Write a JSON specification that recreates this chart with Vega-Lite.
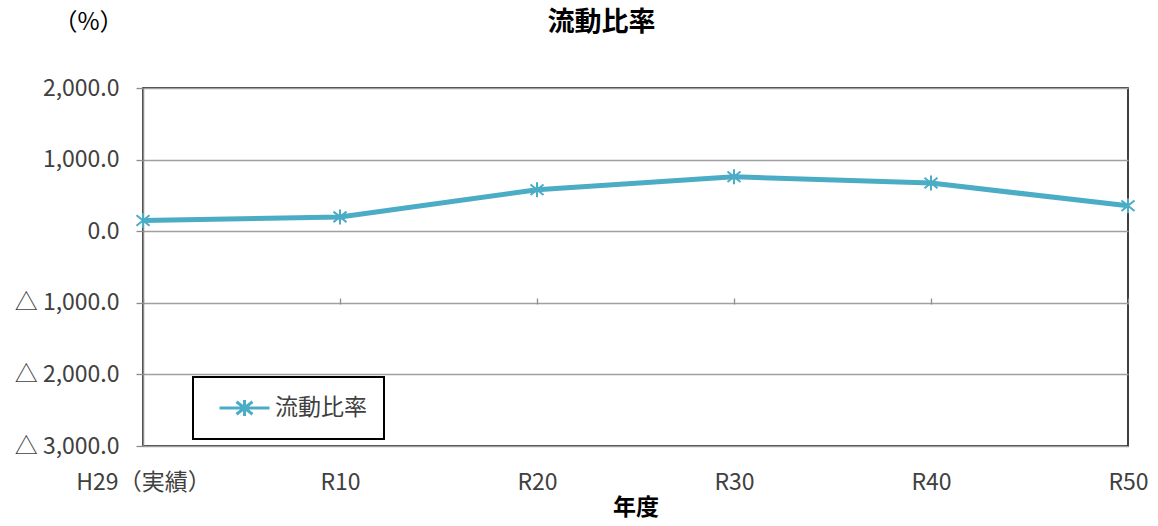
{
  "$schema": "https://vega.github.io/schema/vega-lite/v6.json",
  "autosize": {"type": "none"},
  "width": 985,
  "height": 358,
  "padding": {"left": 143, "top": 88, "right": 30, "bottom": 80},
  "background": "white",
  "config": {
    "font": "Noto Sans CJK JP",
    "view": {"stroke": "#000000", "strokeWidth": 1.5},
    "axis": {"labelFont": "Noto Sans CJK JP", "titleFont": "Noto Sans CJK JP"},
    "legend": {"strokeWidth": 2}
  },
  "title": {
    "text": "流動比率",
    "fontSize": 27,
    "fontWeight": "bold",
    "color": "#000000",
    "anchor": "middle",
    "frame": "group",
    "dx": -34,
    "dy": 37,
    "offset": 10
  },
  "data": {
    "values": [
      {"year": "H29（実績）", "value": 150, "series": "流動比率"},
      {"year": "R10", "value": 200, "series": "流動比率"},
      {"year": "R20", "value": 580, "series": "流動比率"},
      {"year": "R30", "value": 760, "series": "流動比率"},
      {"year": "R40", "value": 672, "series": "流動比率"},
      {"year": "R50", "value": 355, "series": "流動比率"}
    ]
  },
  "layer": [
    {
      "mark": {"type": "line", "strokeWidth": 5},
      "encoding": {
        "x": {
          "field": "year", "type": "ordinal",
          "sort": ["H29（実績）", "R10", "R20", "R30", "R40", "R50"],
          "scale": {"type": "point", "padding": 0},
          "axis": {
            "title": "年度", "titleFontSize": 23, "titleFontWeight": "bold", "titleColor": "#000000", "titlePadding": 2,
            "labelFontSize": 23, "labelColor": "#404040", "labelAngle": 0, "labelPadding": 25,
            "ticks": false, "domain": false, "grid": false
          }
        },
        "y": {
          "field": "value", "type": "quantitative",
          "scale": {"domain": [-3000, 2000], "nice": false, "zero": false},
          "axis": {
            "values": [-3000, -2000, -1000, 0, 1000, 2000],
            "labelExpr": "datum.value < 0 ? '△ ' + format(-datum.value, ',.1f') : format(datum.value, ',.1f')",
            "labelFontSize": 23, "labelColor": "#404040", "labelPadding": 17,
            "tickSize": 7, "tickColor": "#8c8c8c", "tickWidth": 1.3,
            "domainColor": "#8c8c8c", "domainWidth": 1.5,
            "grid": true, "gridColor": "#a0a0a0", "gridWidth": 1.3,
            "title": "（%）", "titleAngle": 0, "titleFontSize": 24, "titleFontWeight": "normal", "titleColor": "#000000",
            "titleX": -55, "titleY": -66, "titleAlign": "center", "titleBaseline": "middle"
          }
        },
        "color": {
          "field": "series", "type": "nominal",
          "scale": {"range": ["#4bacc6"]},
          "legend": {
            "title": null, "orient": "none", "legendX": 50, "legendY": 289,
            "strokeColor": "#000000", "fillColor": "#ffffff", "padding": 17,
            "labelFontSize": 23, "labelColor": "#404040", "labelOffset": 37,
            "symbolType": "M-0.36,0L3.64,0M1.64,-0.64L1.64,0.64M1.0,-0.5L2.28,0.5M1.0,0.5L2.28,-0.5",
            "symbolSize": 625, "symbolStrokeWidth": 3, "symbolFillColor": "transparent", "symbolStrokeColor": "#4bacc6"
          }
        }
      }
    },
    {
      "mark": {"type": "point", "shape": "M0,-1L0,1M-0.87,-0.7L0.87,0.7M-0.87,0.7L0.87,-0.7", "filled": false, "strokeWidth": 2, "size": 225, "opacity": 1},
      "encoding": {
        "x": {
          "field": "year", "type": "ordinal",
          "sort": ["H29（実績）", "R10", "R20", "R30", "R40", "R50"],
          "axis": {
            "title": null, "labels": false, "domain": false, "grid": false,
            "ticks": true, "tickSize": 6, "tickColor": "#8c8c8c", "tickWidth": 1.3, "offset": -216
          }
        },
        "y": {"field": "value", "type": "quantitative"},
        "color": {"field": "series", "type": "nominal"}
      }
    }
  ],
  "resolve": {"axis": {"x": "independent"}}
}
